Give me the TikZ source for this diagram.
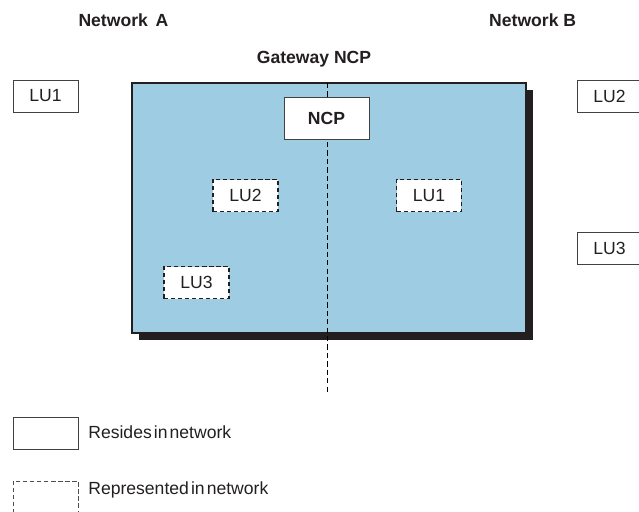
\documentclass[tikz,border=0pt]{standalone}
\usepackage{fontspec}
\setmainfont{Liberation Sans}
\definecolor{gwblue}{RGB}{158,204,226}
\definecolor{inkgray}{RGB}{35,31,32}

\begin{document}
\begin{tikzpicture}[
        x=0.02cm, y=-0.02cm,
        every node/.style={font=\fontsize{10}{12}\selectfont, text=inkgray},
        lubox/.style={draw=inkgray!85, fill=white, line width=0.5pt,
            minimum width=1.3cm, minimum height=0.64cm, inner sep=0pt},
        repbox/.style={lubox, draw=inkgray, line width=0.7pt, dash pattern=on 2.4pt off 1.6pt},
        title/.style={font=\bfseries\fontsize{10}{12}\selectfont, anchor=base}
    ]
        % Rahmen des Bildes
        \clip (0,0) rectangle (639,511);

        % --- Ueberschriften ---
        \node[title] (netA) at (123.5,26) {Network\hspace{0.45em}A};
        \node[title, anchor=base west] (netB) at (483,26) {Network B};
        \node[title] (gwtitle) at (314,63) {Gateway NCP};

        % --- Gateway (Schatten und blaue Flaeche) ---
        \fill[inkgray] (139,90) rectangle (533,340);
        \draw[fill=gwblue, draw=inkgray, line width=0.6pt] (132,83) rectangle (526,333);

        % Trennlinie zwischen beiden Netzen
        \coordinate (cutTop) at (327.5,83);
        \coordinate (cutBot) at (327.5,392);
        \draw[black, line width=0.7pt, dash pattern=on 3pt off 1.8pt] (cutTop) -- (cutBot);

        \node[lubox, minimum width=1.7cm, minimum height=0.84cm,
            font=\bfseries\fontsize{10}{12}\selectfont] (ncp) at (326.5,118) {NCP};

        % --- Netz A ---
        \node[lubox] (aLUone) at (45.5,96) {LU1};
        \node[repbox] (aLUtwo) at (245.5,195.5) {LU2};
        \node[repbox] (aLUthree) at (196.5,282.5) {LU3};

        % --- Netz B ---
        \node[repbox] (bLUone) at (429,195.5) {LU1};
        \node[lubox] (bLUtwo) at (609.5,96) {LU2};
        \node[lubox] (bLUthree) at (609.5,248) {LU3};

        % --- Legende ---
        \node[lubox] (keySolid) at (45.5,433) {};
        \node[repbox, line width=0.5pt, draw=inkgray!80] (keyDashed) at (45.5,497) {};
        \node[anchor=base west, inner sep=0pt] (keySolidTxt) at (88,438) {Resides\hspace{0.12em}in\hspace{0.12em}network};
        \node[anchor=base west, inner sep=0pt] (keyDashedTxt) at (88,494) {Represented\hspace{0.12em}in\hspace{0.12em}network};
    \end{tikzpicture}
\end{document}
